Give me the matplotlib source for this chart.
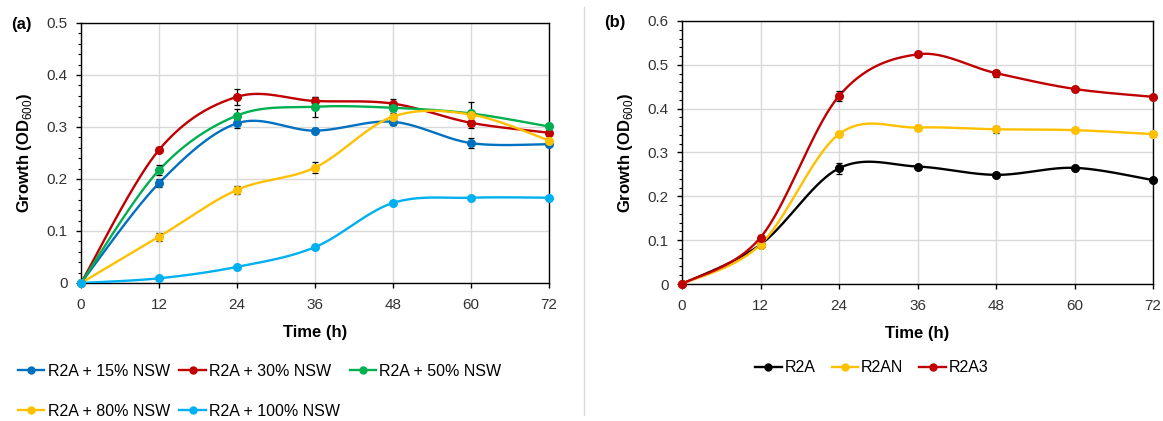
import numpy as np
import matplotlib
matplotlib.use("Agg")
import matplotlib.pyplot as plt
from matplotlib.lines import Line2D
from matplotlib.ticker import MultipleLocator

plt.rcParams['font.family'] = ['Liberation Sans', 'DejaVu Sans']
plt.rcParams['mathtext.fontset'] = 'custom'
plt.rcParams['mathtext.rm'] = 'Liberation Sans'
plt.rcParams['mathtext.bf'] = 'Liberation Sans:bold'

# Sampling times (h)
time_h = [0, 12, 24, 36, 48, 60, 72]

# Panel (a): R2A with natural seawater (NSW) fractions
labels_a = ["R2A + 15% NSW", "R2A + 30% NSW", "R2A + 50% NSW",
            "R2A + 80% NSW", "R2A + 100% NSW"]
od_nsw15 = [0, 0.192, 0.307, 0.293, 0.310, 0.269, 0.267]
od_nsw30 = [0, 0.256, 0.358, 0.350, 0.345, 0.308, 0.289]
od_nsw50 = [0, 0.217, 0.322, 0.339, 0.337, 0.326, 0.301]
od_nsw80 = [0, 0.089, 0.179, 0.222, 0.320, 0.324, 0.274]
od_nsw100 = [0, 0.009, 0.031, 0.069, 0.154, 0.164, 0.164]
err_nsw15 = [0, 0.008, 0.008, 0.005, 0.007, 0.010, 0.005]
err_nsw30 = [0, 0.005, 0.016, 0.008, 0.009, 0.009, 0.006]
err_nsw50 = [0, 0.010, 0.012, 0.019, 0.006, 0.022, 0.006]
err_nsw80 = [0, 0.008, 0.008, 0.010, 0.006, 0.005, 0.005]
err_nsw100 = [0, 0.002, 0.002, 0.003, 0.003, 0.002, 0.002]

# Panel (b): media comparison
labels_b = ["R2A", "R2AN", "R2A3"]
od_r2a = [0, 0.090, 0.264, 0.268, 0.249, 0.265, 0.237]
od_r2an = [0, 0.090, 0.342, 0.357, 0.353, 0.351, 0.342]
od_r2a3 = [0, 0.106, 0.429, 0.524, 0.481, 0.445, 0.427]
err_r2a = [0, 0.005, 0.012, 0.004, 0.004, 0.004, 0.004]
err_r2an = [0, 0.005, 0.004, 0.006, 0.008, 0.004, 0.006]
err_r2a3 = [0, 0.005, 0.012, 0.004, 0.008, 0.004, 0.004]

colors_a = ["#0070C0", "#C00000", "#00B050", "#FFC000", "#00B0F0"]
colors_b = ["#000000", "#FFC000", "#C00000"]


def smooth_curve(x, y, n=40):
    """Cardinal-spline smoothing through every point (Bezier, tension 1/6)."""
    x = np.asarray(x, float)
    y = np.asarray(y, float)
    px = np.concatenate([[x[0]], x, [x[-1]]])
    py = np.concatenate([[y[0]], y, [y[-1]]])
    xs, ys = [], []
    t = np.linspace(0, 1, n)
    for i in range(1, len(px) - 2):
        p0 = np.array([px[i], py[i]])
        p3 = np.array([px[i + 1], py[i + 1]])
        c1 = p0 + (np.array([px[i + 1], py[i + 1]]) - np.array([px[i - 1], py[i - 1]])) / 6
        c2 = p3 - (np.array([px[i + 2], py[i + 2]]) - np.array([px[i], py[i]])) / 6
        b = ((1 - t) ** 3)[:, None] * p0 + (3 * (1 - t) ** 2 * t)[:, None] * c1 \
            + (3 * (1 - t) * t ** 2)[:, None] * c2 + (t ** 3)[:, None] * p3
        xs.append(b[:, 0])
        ys.append(b[:, 1])
    return np.concatenate(xs), np.concatenate(ys)


W, H = 1163, 421
fig = plt.figure(figsize=(W / 100, H / 100), dpi=100)


def px_axes(l, t, r, b):
    return fig.add_axes([l / W, 1 - b / H, (r - l) / W, (b - t) / H])


def style_axes(ax, ymax, ystep):
    ax.set_xlim(0, 72)
    ax.set_ylim(0, ymax)
    ax.xaxis.set_major_locator(MultipleLocator(12))
    ax.yaxis.set_major_locator(MultipleLocator(ystep))
    ax.yaxis.set_minor_locator(MultipleLocator(0.02))
    ax.grid(True, which='major', color='#d9d9d9', lw=1.0, zorder=0)
    ax.set_axisbelow(True)
    for s in ax.spines.values():
        s.set_color('#000000')
        s.set_linewidth(1.0)
    ax.tick_params(axis='both', which='major', direction='out', length=3.5,
                   width=1.0, labelsize=11, labelcolor='#333333')
    ax.tick_params(axis='x', pad=7)
    ax.tick_params(axis='y', pad=6)
    ax.tick_params(axis='y', which='minor', direction='out', length=2.5, width=0.8)
    ax.yaxis.set_major_formatter(plt.FuncFormatter(lambda v, p: "0" if v == 0 else f"{v:g}"))
    ax.set_xlabel("Time (h)", fontsize=12, fontweight='bold', labelpad=10)
    ax.set_ylabel(r"Growth (OD$_{\mathrm{600}}$)", fontsize=12, fontweight='bold', labelpad=9)


def draw_series(ax, y, err, color, label):
    sx, sy = smooth_curve(time_h, y)
    ax.plot(sx, sy, color=color, lw=1.7, zorder=3, solid_capstyle='round')
    ax.errorbar(time_h, y, yerr=err, fmt='none', ecolor='#000000', elinewidth=0.9,
                capsize=2.5, capthick=0.9, zorder=4)
    ax.plot(time_h, y, 'o', color=color, ms=5.5, zorder=5, clip_on=False)
    return Line2D([0], [0], color=color, lw=1.7, marker='o', ms=5, label=label)


# Panel (a)
ax_a = px_axes(81, 23, 549, 283)
style_axes(ax_a, 0.5, 0.1)
series_a = [od_nsw15, od_nsw30, od_nsw50, od_nsw80, od_nsw100]
errors_a = [err_nsw15, err_nsw30, err_nsw50, err_nsw80, err_nsw100]
handles_a = [draw_series(ax_a, y, e, c, l)
             for y, e, c, l in zip(series_a, errors_a, colors_a, labels_a)]
order = [0, 3, 1, 4, 2]
fig.legend([handles_a[i] for i in order], [labels_a[i] for i in order],
           loc='upper left', bbox_to_anchor=(18 / W, 1 - 364 / H), ncol=3,
           frameon=False, fontsize=11.5, handlelength=1.65, handletextpad=0.2,
           columnspacing=0.6, labelspacing=1.54, borderaxespad=0, borderpad=0)
fig.text(11 / W, 1 - 24 / H, "(a)", fontsize=12, fontweight='bold', va='center')

# Panel (b)
ax_b = px_axes(682, 21, 1153, 284)
style_axes(ax_b, 0.6, 0.1)
series_b = [od_r2a, od_r2an, od_r2a3]
errors_b = [err_r2a, err_r2an, err_r2a3]
handles_b = [draw_series(ax_b, y, e, c, l)
             for y, e, c, l in zip(series_b, errors_b, colors_b, labels_b)]
fig.legend(handles_b, labels_b, loc='center', bbox_to_anchor=(872 / W, 1 - 368 / H),
           ncol=3, frameon=False, fontsize=11.5, handlelength=1.65, handletextpad=0.2,
           columnspacing=1.0, borderaxespad=0, borderpad=0)
fig.text(604 / W, 1 - 22 / H, "(b)", fontsize=12, fontweight='bold', va='center')

# Divider between the two panels
fig.add_artist(Line2D([584 / W, 584 / W], [1 - 7 / H, 1 - 415 / H],
                      color='#d9d9d9', lw=1.0, transform=fig.transFigure))

fig.savefig("out.png", dpi=100)
